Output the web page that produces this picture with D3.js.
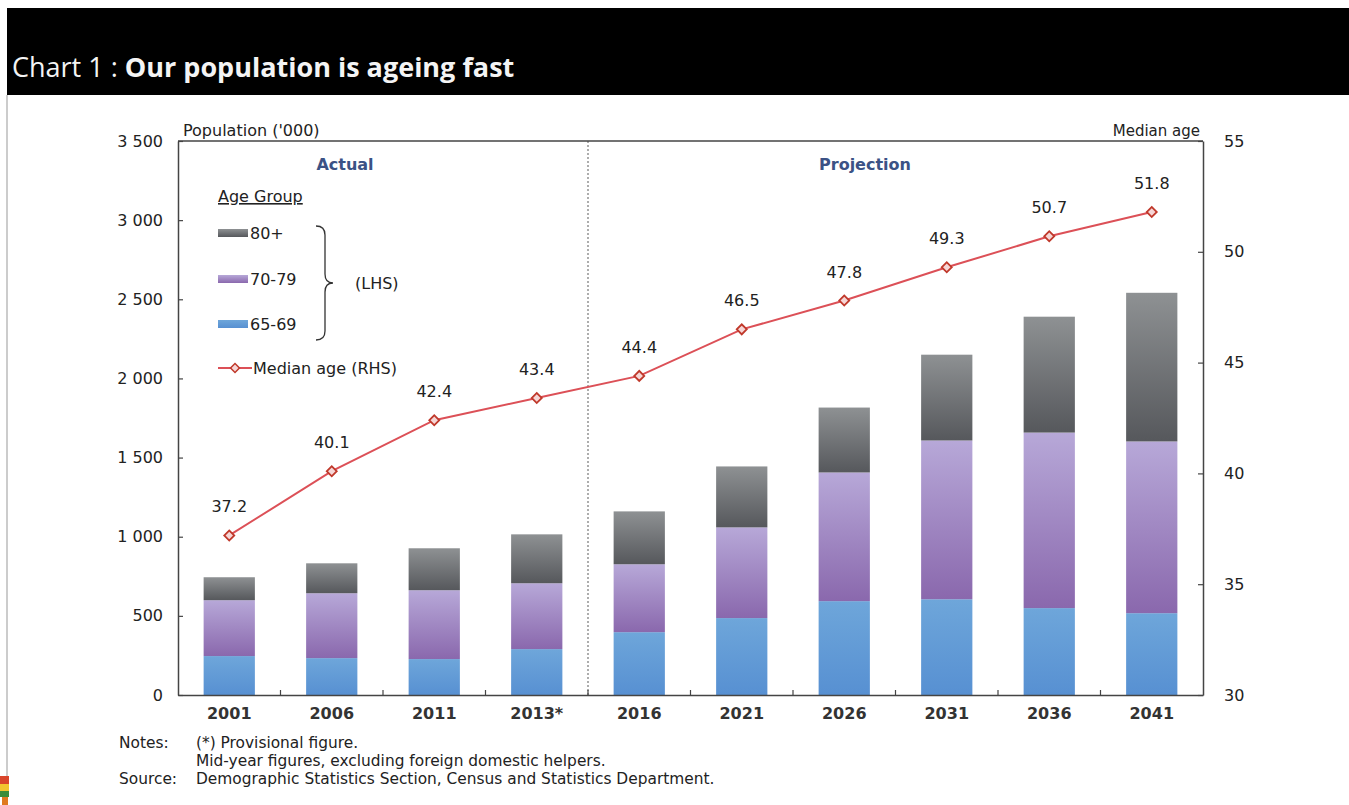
<!DOCTYPE html>
<html><head><meta charset="utf-8">
<script src="https://cdn.jsdelivr.net/npm/d3@7"></script>
<style>body{margin:0;background:#fff;overflow:hidden} text{font-family:"DejaVu Sans",sans-serif;}</style>
</head><body><svg id="c" width="1349" height="805"></svg>
<script>
const categories = ["2001","2006","2011","2013*","2016","2021","2026","2031","2036","2041"];
const age6569 = [246,233,227,290,397,486,593,605,549,517];
const age7079 = [353,410,435,416,429,573,813,1003,1109,1085];
const age80p  = [145,189,265,309,334,385,410,542,732,939];
const medianAge = [37.2,40.1,42.4,43.4,44.4,46.5,47.8,49.3,50.7,51.8];
const leftTicks = [0,500,1000,1500,2000,2500,3000,3500];
const rightTicks = [30,35,40,45,50,55];
const seriesNames = ["65-69","70-79","80+"];

const svg = d3.select("#c");
const L = 178, R = 1203, T = 141, B = 695;
const FS = "16px";

// header
svg.append("rect").attr("x",7).attr("y",8).attr("width",1342).attr("height",87).attr("fill","#000");
const title = svg.append("text").attr("x",12).attr("y",77).attr("fill","#f4f4f4")
  .style("font-family","'Open Sans','Noto Sans',sans-serif").style("font-size","27px");
title.append("tspan").text("Chart 1 : ").style("font-weight","400");
title.append("tspan").text("Our population is ageing fast").style("font-weight","700");
svg.append("line").attr("x1",7).attr("x2",7).attr("y1",95).attr("y2",805).attr("stroke","#999").attr("stroke-width",1);
// small logo bottom-left
[["#d9452b",0,776,9,8],["#f2c530",0,784,9,7],["#3a8d3a",0,791,9,6],["#e07a1f",2,797,6,8]].forEach(r=>
  svg.append("rect").attr("fill",r[0]).attr("x",r[1]).attr("y",r[2]).attr("width",r[3]).attr("height",r[4]));

const x = d3.scaleBand().domain(categories).range([L,R]).paddingInner(0.5).paddingOuter(0.25);
const y = d3.scaleLinear().domain([0,3500]).range([B,T]);
const y2 = d3.scaleLinear().domain([30,55]).range([B,T]);

// gradients
const defs = svg.append("defs");
const grads = [["#6ea6da","#5790d2"],["#b7a8d8","#8a68ad"],["#8e9193","#56585c"]];
grads.forEach((c,i)=>{
  const g = defs.append("linearGradient").attr("id","g"+i).attr("x1",0).attr("y1",0).attr("x2",0).attr("y2",1);
  g.append("stop").attr("offset","0%").attr("stop-color",c[0]);
  g.append("stop").attr("offset","100%").attr("stop-color",c[1]);
});

// stacked data
const rows = categories.map((c,i)=>({cat:c,"65-69":age6569[i],"70-79":age7079[i],"80+":age80p[i]}));
const stack = d3.stack().keys(seriesNames)(rows);
svg.append("g").selectAll("g").data(stack).join("g")
  .attr("fill",(d,i)=>`url(#g${i})`)
  .selectAll("rect").data(d=>d).join("rect")
  .attr("x",d=>x(d.data.cat)).attr("width",x.bandwidth())
  .attr("y",d=>y(d[1])).attr("height",d=>y(d[0])-y(d[1]));

// divider
const divX = (x("2013*")+x.bandwidth()+x("2016"))/2;
svg.append("line").attr("x1",divX).attr("x2",divX).attr("y1",T).attr("y2",B)
  .attr("stroke","#777").attr("stroke-width",1.2).attr("stroke-dasharray","2,2");

// axes
const fmt = v => d3.format(",")(v).replace(",", " ");
const gl = svg.append("g").attr("transform",`translate(${L},0)`)
  .call(d3.axisLeft(y).tickValues(leftTicks).tickFormat(fmt).tickSize(-5).tickPadding(15).tickSizeOuter(0));
const gr = svg.append("g").attr("transform",`translate(${R},0)`)
  .call(d3.axisRight(y2).tickValues(rightTicks).tickSize(-5).tickPadding(21).tickSizeOuter(0));
const gb = svg.append("g").attr("transform",`translate(0,${B})`)
  .call(d3.axisBottom(x).tickSize(0).tickPadding(13).tickSizeOuter(0));
[gl,gr,gb].forEach(g=>{
  g.select(".domain").attr("stroke","#444").attr("stroke-width",1.5);
  g.selectAll(".tick line").attr("stroke","#444").attr("stroke-width",1.2);
  g.selectAll("text").attr("fill","#222").style("font-size",FS).style("font-family","'DejaVu Sans',sans-serif");
});
gb.selectAll("text").style("font-weight","bold").attr("fill","#333");
// inner ticks at category boundaries on x axis
const bounds = categories.slice(1).map(c=>x(c)-x.step()*x.paddingInner()/2);
svg.append("g").selectAll("line").data(bounds).join("line")
  .attr("x1",d=>d).attr("x2",d=>d).attr("y1",B).attr("y2",B-5).attr("stroke","#444").attr("stroke-width",1.2);
// top frame line
svg.append("line").attr("x1",L).attr("x2",R).attr("y1",T).attr("y2",T).attr("stroke","#444").attr("stroke-width",1.5);

// axis titles
svg.append("text").attr("x",183).attr("y",136).text("Population ('000)").style("font-size",FS).attr("fill","#222");
svg.append("text").attr("x",1200).attr("y",136).attr("text-anchor","end").text("Median age").style("font-size","15px").attr("fill","#222");
svg.append("text").attr("x",345).attr("y",170).attr("text-anchor","middle").text("Actual")
  .style("font-size",FS).style("font-weight","bold").attr("fill","#3b5285");
svg.append("text").attr("x",865).attr("y",170).attr("text-anchor","middle").text("Projection")
  .style("font-size",FS).style("font-weight","bold").attr("fill","#3b5285");

// line
const cx = c => x(c)+x.bandwidth()/2;
const ld = categories.map((c,i)=>[cx(c),y2(medianAge[i])]);
svg.append("path").attr("d",d3.line()(ld)).attr("fill","none").attr("stroke","#dc5057").attr("stroke-width",2);
svg.append("g").selectAll("path").data(ld).join("path")
  .attr("transform",d=>`translate(${d[0]},${d[1]}) rotate(45)`)
  .attr("d",d3.symbol(d3.symbolSquare,50)).attr("fill","#f6d6d6").attr("stroke","#c0392b").attr("stroke-width",1.8);
svg.append("g").selectAll("text").data(medianAge).join("text")
  .attr("x",(d,i)=>cx(categories[i])).attr("y",(d,i)=>y2(d)-23).attr("text-anchor","middle")
  .text(d=>d.toFixed(1)).style("font-size",FS).attr("fill","#222");

// legend
svg.append("text").attr("x",218).attr("y",202).text("Age Group").style("font-size",FS)
  .attr("fill","#222").style("text-decoration","underline");
const legItems = [["80+",2,233],["70-79",1,279],["65-69",0,324]];
legItems.forEach(([lab,gi,yy])=>{
  svg.append("rect").attr("x",218).attr("y",yy-4).attr("width",30).attr("height",8).attr("fill",`url(#g${gi})`);
  svg.append("text").attr("x",250).attr("y",yy+6).text(lab).style("font-size",FS).attr("fill","#222");
});
svg.append("path").attr("d","M316,226 Q325,226 325,235 L325,274 Q325,283 333,283 Q325,283 325,292 L325,331 Q325,340 316,340")
  .attr("fill","none").attr("stroke","#333").attr("stroke-width",1.3);
svg.append("text").attr("x",355).attr("y",289).text("(LHS)").style("font-size",FS).attr("fill","#222");
svg.append("line").attr("x1",218).attr("x2",252).attr("y1",368).attr("y2",368).attr("stroke","#dc5057").attr("stroke-width",2);
svg.append("path").attr("transform","translate(235,368) rotate(45)").attr("d",d3.symbol(d3.symbolSquare,40))
  .attr("fill","#f6d6d6").attr("stroke","#c0392b").attr("stroke-width",1.5);
svg.append("text").attr("x",253).attr("y",374).text("Median age (RHS)").style("font-size",FS).attr("fill","#222");

// notes
const notes = [[119,748,"Notes:"],[196,748,"(*) Provisional figure."],[196,766,"Mid-year figures, excluding foreign domestic helpers."],
  [119,784,"Source:"],[196,784,"Demographic Statistics Section, Census and Statistics Department."]];
svg.append("g").selectAll("text").data(notes).join("text")
  .attr("x",d=>d[0]).attr("y",d=>d[1]).text(d=>d[2]).style("font-size","15.4px").attr("fill","#222");
</script></body></html>
